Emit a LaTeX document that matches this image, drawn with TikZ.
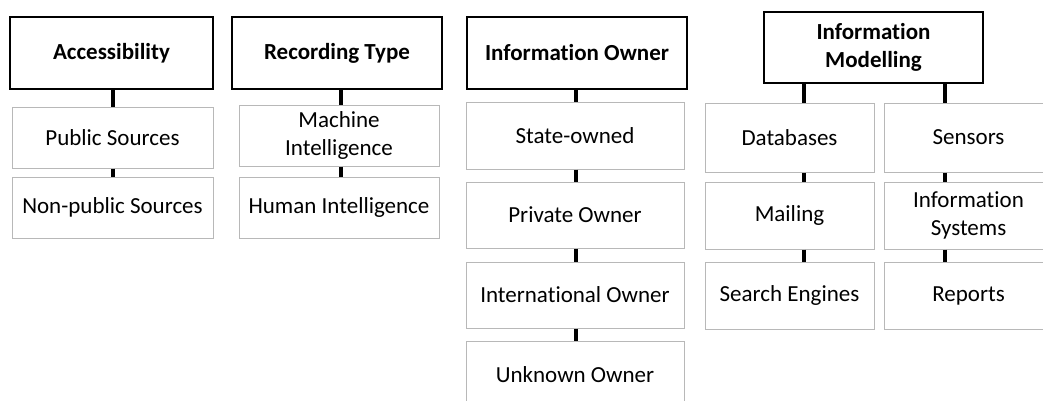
\documentclass[tikz,border=0pt]{standalone}
\usepackage{fontspec}
\setmainfont{Carlito}[Ligatures={NoCommon,NoRare,NoContextual}]
\begin{document}
\begin{tikzpicture}[x=1pt,y=-1pt,
  head/.style={draw=black, line width=1.3pt, fill=white, inner sep=0pt, align=center,
    font=\fontsize{23}{27.5}\selectfont\bfseries},
  item/.style={draw=black!28, line width=1pt, fill=white, inner sep=0pt, align=center,
    font=\fontsize{23}{27.5}\selectfont},
  link/.style={line width=4pt, black}]
\useasboundingbox (0,0) rectangle (1043,400);
\fill[white] (0,0) rectangle (1043,400);
% Accessibility
\node[head, minimum width=203pt, minimum height=72pt] (A) at (111.5,53) {Accessibility};
\node[item, minimum width=201pt, minimum height=61pt] (A1) at (112.5,137.5) {Public Sources};
\node[item, minimum width=201pt, minimum height=61pt] (A2) at (112.5,207.5) {Non-public Sources};
% Recording Type
\node[head, minimum width=210pt, minimum height=72pt] (R) at (337,53) {Recording Type};
\node[item, minimum width=200pt, minimum height=61pt] (R1) at (339,135.5) {Machine\\Intelligence};
\node[item, minimum width=200pt, minimum height=61pt] (R2) at (339,207.5) {Human Intelligence};
% Information Owner
\node[head, minimum width=220pt, minimum height=72pt] (O) at (577,53) {Information Owner};
\node[item, minimum width=218pt, minimum height=67pt] (O1) at (575,135.5) {State-owned};
\node[item, minimum width=218pt, minimum height=66pt] (O2) at (575,215) {Private Owner};
\node[item, minimum width=218pt, minimum height=66pt] (O3) at (575,295) {International Owner};
\node[item, minimum width=218pt, minimum height=67pt] (O4) at (575,374.5) {Unknown Owner};
% Information Modelling
\node[head, minimum width=219pt, minimum height=71pt] (M) at (873.5,47.5) {Information\\Modelling};
\node[item, minimum width=169pt, minimum height=69pt] (M1) at (789.5,137.5) {Databases};
\node[item, minimum width=169pt, minimum height=67pt] (M2) at (789.5,215.5) {Mailing};
\node[item, minimum width=169pt, minimum height=67pt] (M3) at (789.5,295.5) {Search Engines};
\node[item, minimum width=169pt, minimum height=69pt] (S1) at (968.5,137.5) {Sensors};
\node[item, minimum width=169pt, minimum height=67pt] (S2) at (968.5,215.5) {Information\\Systems};
\node[item, minimum width=169pt, minimum height=67pt] (S3) at (968.5,295.5) {Reports};
% connectors
\draw[link] (A.south -| 113,0) -- (A1.north -| 113,0);
\draw[link] (A1.south -| 113,0) -- (A2.north -| 113,0);
\draw[link] (R.south -| 341,0) -- (R1.north -| 341,0);
\draw[link] (R1.south -| 341,0) -- (R2.north -| 341,0);
\draw[link] (O.south -| 576,0) -- (O1.north -| 576,0);
\draw[link] (O1.south -| 576,0) -- (O2.north -| 576,0);
\draw[link] (O2.south -| 576,0) -- (O3.north -| 576,0);
\draw[link] (O3.south -| 576,0) -- (O4.north -| 576,0);
\draw[link] (M.south -| 804,0) -- (M1.north -| 804,0);
\draw[link] (M1.south -| 804,0) -- (M2.north -| 804,0);
\draw[link] (M2.south -| 804,0) -- (M3.north -| 804,0);
\draw[link] (M.south -| 945,0) -- (S1.north -| 945,0);
\draw[link] (S1.south -| 945,0) -- (S2.north -| 945,0);
\draw[link] (S2.south -| 945,0) -- (S3.north -| 945,0);
\end{tikzpicture}
\end{document}
